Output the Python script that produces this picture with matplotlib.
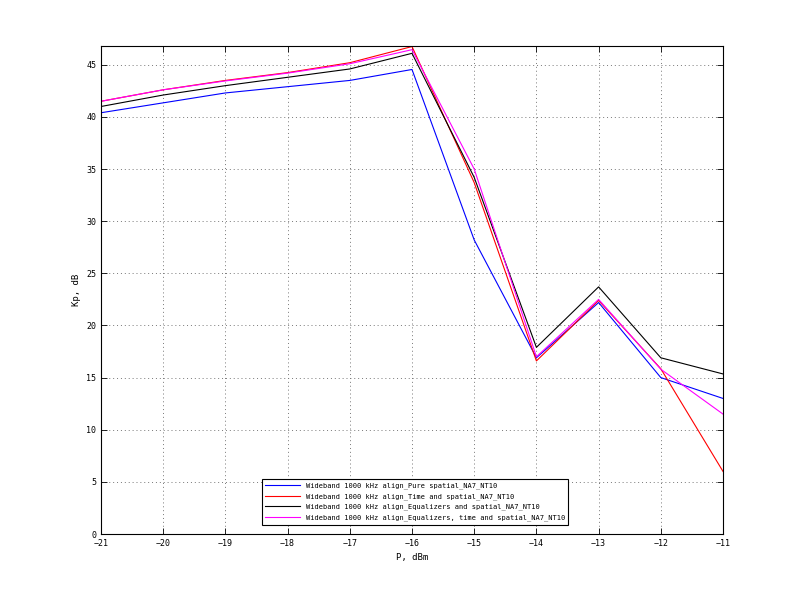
import numpy as np
import matplotlib
matplotlib.use("Agg")
import matplotlib.pyplot as plt

# input power, dBm
p_dbm = [-21, -20, -19, -18, -17, -16, -15, -14, -13, -12, -11]

# Kp, dB for each alignment mode
kp_pure = [40.4, 41.35, 42.3, 42.9, 43.5, 44.55, 28.2, 16.9, 22.2, 15.0, 13.0]
kp_time = [41.5, 42.6, 43.5, 44.25, 45.2, 46.75, 33.7, 16.6, 22.4, 15.85, 6.0]
kp_eq = [41.0, 42.1, 43.0, 43.8, 44.6, 46.1, 34.2, 17.9, 23.7, 16.9, 15.35]
kp_eq_time = [41.5, 42.6, 43.45, 44.2, 45.1, 46.45, 35.0, 17.0, 22.5, 15.8, 11.5]

labels = [
    'Wideband 1000 kHz align_Pure spatial_NA7_NT10',
    'Wideband 1000 kHz align_Time and spatial_NA7_NT10',
    'Wideband 1000 kHz align_Equalizers and spatial_NA7_NT10',
    'Wideband 1000 kHz align_Equalizers, time and spatial_NA7_NT10',
]
colors = ['#0000ff', '#ff0000', '#000000', '#ff00ff']

plt.rcParams['font.family'] = 'DejaVu Sans Mono'

fig = plt.figure(figsize=(7.99, 6.0), dpi=100)
ax = fig.add_axes([0.1264, 0.11, 0.7785, 0.8133])

for series, lab, col in zip([kp_pure, kp_time, kp_eq, kp_eq_time], labels, colors):
    ax.plot(p_dbm, series, color=col, linewidth=0.8, label=lab)

ax.set_xlim(-21, -11)
ax.set_ylim(0, 46.8)
ax.set_xticks(np.arange(-21, -10, 1))
ax.set_yticks(np.arange(0, 46, 5))
ax.grid(True, linestyle=(0, (1, 3)), color='#777777', linewidth=0.7)
ax.tick_params(direction='in', top=True, right=True, labelsize=6, length=4, width=0.6)
for sp in ax.spines.values():
    sp.set_linewidth(0.8)

ax.set_xlabel('P, dBm', fontsize=6.5)
ax.set_ylabel('Kp, dB', fontsize=6.5)

leg = ax.legend(loc='lower center', bbox_to_anchor=(0.505, 0.012), fontsize=5.0,
                fancybox=False, edgecolor='black', framealpha=1, handlelength=5.0,
                borderpad=0.5, labelspacing=0.6)
leg.get_frame().set_linewidth(0.8)

fig.savefig('out.png', dpi=100)
